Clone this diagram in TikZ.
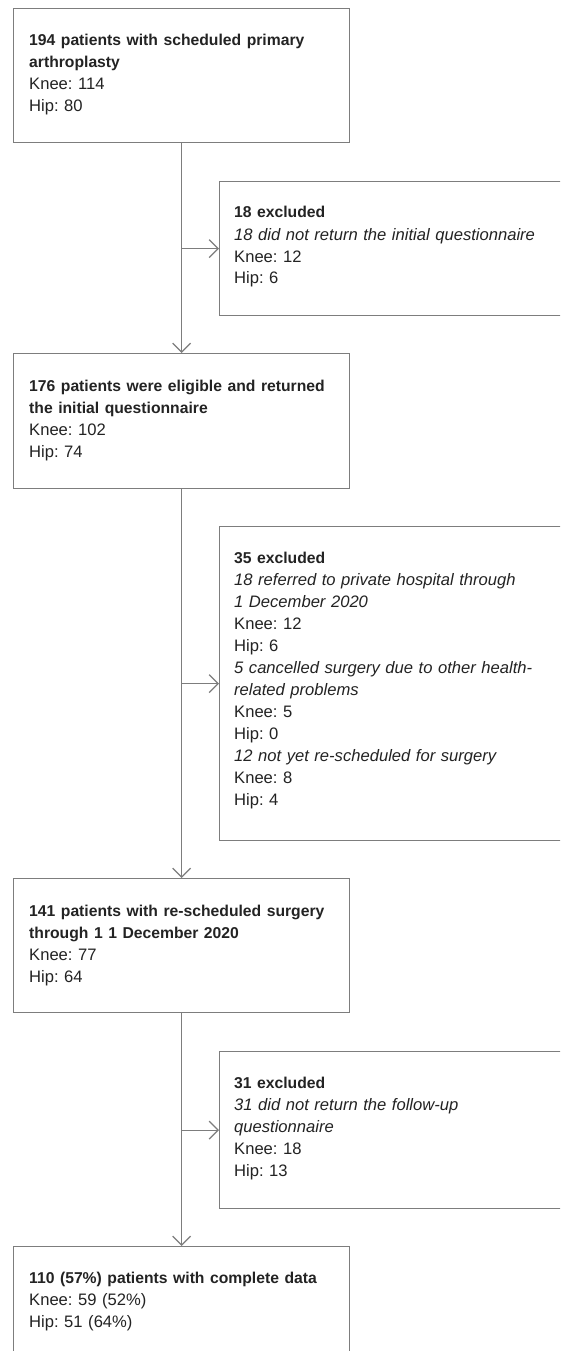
\documentclass[tikz,border=0pt]{standalone}
\usepackage{fontspec}
\setmainfont{Liberation Sans}
\usetikzlibrary{arrows.meta}
\definecolor{lineC}{RGB}{125,125,125}
\definecolor{textC}{RGB}{35,35,35}
\frenchspacing
\newcommand{\hd}[1]{{\bfseries\fontsize{15.7}{22}\selectfont #1}}
\begin{document}
\begin{tikzpicture}[x=1pt,y=-1pt,
  box/.style={draw=lineC, line width=1.2pt, rectangle, inner sep=0pt, anchor=north west},
  txt/.style={anchor=base west, inner sep=0pt, align=left, text width=330pt, text=textC,
    font=\fontsize{16.6}{22}\selectfont\frenchspacing},
  conn/.style={draw=lineC, line width=1.2pt, -{Straight Barb[length=9pt,width=18pt,line width=1.2pt]}}]
\clip (0,0) rectangle (560,1351);
\fill[white] (0,0) rectangle (560,1351);
% main boxes
\node[box, minimum width=336pt, minimum height=134pt] (b1) at (13,8) {};
\node[box, minimum width=336pt, minimum height=135pt] (b3) at (13,353) {};
\node[box, minimum width=336pt, minimum height=134pt] (b5) at (13,878) {};
\node[box, minimum width=336pt, minimum height=140pt] (b7) at (13,1246) {};
% side boxes
\node[box, minimum width=345pt, minimum height=134pt] (b2) at (219,181) {};
\node[box, minimum width=345pt, minimum height=314pt] (b4) at (219,526) {};
\node[box, minimum width=345pt, minimum height=157pt] (b6) at (219,1051) {};
% texts
\node[txt] (t1) at (29,46) {\hd{194 patients with scheduled primary}\\\hd{arthroplasty}\\Knee: 114\\Hip: 80};
\node[txt] (t2) at (234,218) {\hd{18 excluded}\\\textit{18 did not return the initial questionnaire}\\Knee: 12\\Hip: 6};
\node[txt] (t3) at (29,391) {\hd{176 patients were eligible and returned}\\\hd{the initial questionnaire}\\Knee: 102\\Hip: 74};
\node[txt] (t4) at (234,563) {\hd{35 excluded}\\\textit{18 referred to private hospital through}\\\textit{1 December 2020}\\Knee: 12\\Hip: 6\\\textit{5 cancelled surgery due to other health-}\\\textit{related problems}\\Knee: 5\\Hip: 0\\\textit{12 not yet re-scheduled for surgery}\\Knee: 8\\Hip: 4};
\node[txt] (t5) at (29,916) {\hd{141 patients with re-scheduled surgery}\\\hd{through 1 1 December 2020}\\Knee: 77\\Hip: 64};
\node[txt] (t6) at (234,1088) {\hd{31 excluded}\\\textit{31 did not return the follow-up}\\\textit{questionnaire}\\Knee: 18\\Hip: 13};
\node[txt] (t7) at (29,1283) {\hd{110 (57\%) patients with complete data}\\Knee: 59 (52\%)\\Hip: 51 (64\%)};
% connectors
\draw[conn] (b1.south) -- (b3.north);
\draw[conn] (b3.south) -- (b5.north);
\draw[conn] (b5.south) -- (b7.north);
\draw[conn] (b2.west -| b1.south) -- (b2.west);
\draw[conn] (b4.west -| b3.south) -- (b4.west);
\draw[conn] (b6.west -| b5.south) -- (b6.west);
\end{tikzpicture}
\end{document}
